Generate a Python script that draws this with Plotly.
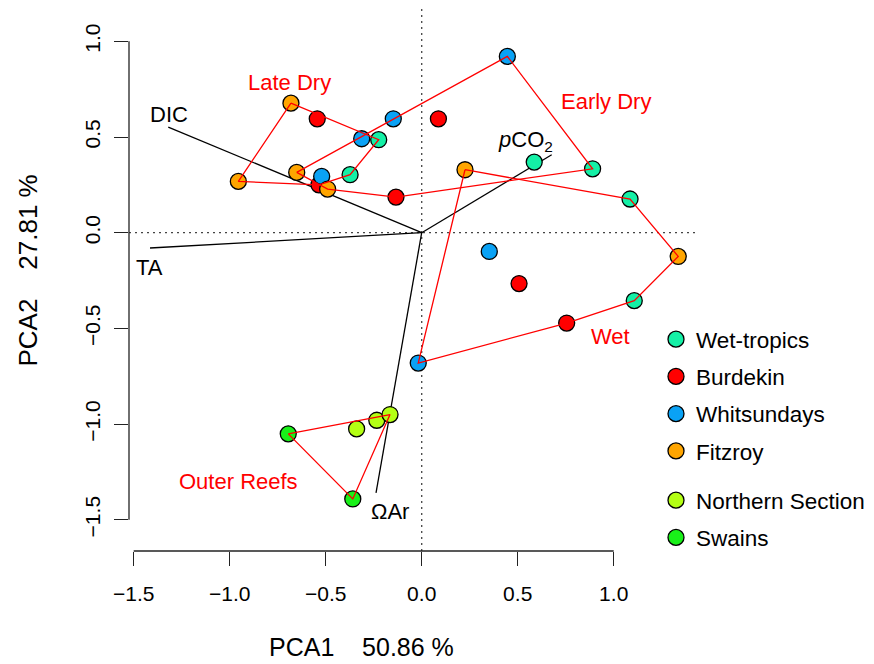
import plotly.graph_objects as go

# ---------------- data ----------------
regions = ["Wet-tropics", "Burdekin", "Whitsundays", "Fitzroy", "Northern Section", "Swains"]
colors = ["#14F0A6", "#FF0000", "#0AA2F5", "#FFA500", "#B4FF14", "#19F019"]

wet_x = [-0.224, -0.373, 0.586, 0.890, 1.085, 1.107]
wet_y = [0.486, 0.303, 0.369, 0.334, 0.176, -0.355]
bur_x = [-0.544, 0.087, -0.535, -0.134, 0.507, 0.755]
bur_y = [0.595, 0.595, 0.250, 0.186, -0.266, -0.472]
whi_x = [-0.148, -0.3125, -0.521, 0.446, 0.352, -0.018]
whi_y = [0.595, 0.491, 0.294, 0.921, -0.098, -0.681]
fit_x = [-0.681, -0.955, -0.651, -0.490, 0.2255, 1.336]
fit_y = [0.677, 0.268, 0.315, 0.228, 0.329, -0.124]
nor_x = [-0.339, -0.234, -0.165]
nor_y = [-1.025, -0.980, -0.950]
swa_x = [-0.695, -0.359]
swa_y = [-1.051, -1.391]

# season polygons: (region index, point index) in drawing order
late_dry = [(3, 0), (0, 0), (0, 1), (1, 2), (3, 1), (3, 0)]
early_dry = [(3, 2), (2, 3), (0, 3), (1, 3), (3, 3), (3, 2)]
wet_season = [(3, 4), (0, 4), (3, 5), (0, 5), (1, 5), (2, 5), (3, 4)]
outer_reefs = [(5, 0), (4, 2), (5, 1), (5, 0)]

season_names = ["Late Dry", "Early Dry", "Wet", "Outer Reefs"]
season_lab_x = [-0.69, 0.961, 0.985, -0.952]
season_lab_y = [0.787, 0.686, -0.543, -1.298]

# biplot vectors
vec_names = ["DIC", "TA", "<i>p</i>CO<sub>2</sub>", "ΩAr"]
vec_x = [-1.320, -1.415, 0.677, -0.238]
vec_y = [0.552, -0.080, 0.407, -1.359]
vec_lab_x = [-1.316, -1.420, 0.538, -0.165]
vec_lab_y = [0.615, -0.184, 0.480, -1.455]

x_ticks = [-1.5, -1.0, -0.5, 0.0, 0.5, 1.0]
y_ticks = [-1.5, -1.0, -0.5, 0.0, 0.5, 1.0]
x_title = "PCA1\u00a0\u00a0\u00a0\u00a050.86 %"
y_title = "PCA2\u00a0\u00a0\u00a0\u00a027.81 %"

X_RANGE = [-1.5245, 1.4234]
Y_RANGE = [-1.663, 1.174]

FONT = "Liberation Sans, Arial, Helvetica, sans-serif"

pts_x = [wet_x, bur_x, whi_x, fit_x, nor_x, swa_x]
pts_y = [wet_y, bur_y, whi_y, fit_y, nor_y, swa_y]

W, H = 874, 664
L, R, T, B = 129, 874 - 695, 8, 664 - 551
pw, ph = W - L - R, H - T - B


def px_to_paper(ax, ay):
    return (ax - L) / pw, (H - B - ay) / ph


fig = go.Figure()

# vectors (under points)
for vx, vy in zip(vec_x, vec_y):
    fig.add_trace(go.Scatter(x=[0, vx], y=[0, vy], mode="lines",
                             line=dict(color="black", width=1.3),
                             showlegend=False, hoverinfo="skip"))

# points
for i, (name, col) in enumerate(zip(regions, colors)):
    fig.add_trace(go.Scatter(
        x=pts_x[i], y=pts_y[i], mode="markers", name=name,
        marker=dict(size=16, color=col, line=dict(color="black", width=1.3)),
        legend="legend" if i < 4 else "legend2",
        legendgroup=name,
    ))

# season polygons (on top)
for poly in [late_dry, early_dry, wet_season, outer_reefs]:
    fig.add_trace(go.Scatter(
        x=[pts_x[r][k] for r, k in poly], y=[pts_y[r][k] for r, k in poly],
        mode="lines", line=dict(color="#FF0000", width=1.3),
        showlegend=False, hoverinfo="skip"))

annotations = []
for t, x, y in zip(season_names, season_lab_x, season_lab_y):
    annotations.append(dict(x=x, y=y, xref="x", yref="y", text=t, showarrow=False,
                            font=dict(family=FONT, size=22, color="#FF0000"),
                            xanchor="center", yanchor="middle"))
for t, x, y in zip(vec_names, vec_lab_x, vec_lab_y):
    annotations.append(dict(x=x, y=y, xref="x", yref="y", text=t, showarrow=False,
                            font=dict(family=FONT, size=22, color="black"),
                            xanchor="center", yanchor="middle"))

# axis titles (positioned in pixels, converted to paper coordinates)
xt_x, xt_y = px_to_paper(361, 663)
annotations.append(dict(x=xt_x, y=xt_y, xref="paper", yref="paper", text=x_title,
                        showarrow=False, xanchor="center", yanchor="bottom",
                        font=dict(family=FONT, size=25, color="black")))
yt_x, yt_y = px_to_paper(27.5, 271)
annotations.append(dict(x=yt_x, y=yt_y, xref="paper", yref="paper", text=y_title,
                        showarrow=False, textangle=-90, xanchor="center", yanchor="middle",
                        font=dict(family=FONT, size=26, color="black")))

DOT = "2px,4px"
shapes = [
    # dotted reference lines
    dict(type="line", xref="x", yref="paper", x0=0, x1=0, y0=0, y1=1,
         line=dict(color="#444", width=1.3, dash=DOT), layer="below"),
    dict(type="line", xref="paper", yref="y", x0=0, x1=1, y0=0, y1=0,
         line=dict(color="#444", width=1.3, dash=DOT), layer="below"),
    # R-style axis lines spanning first to last tick
    dict(type="line", xref="x", yref="paper", x0=x_ticks[0], x1=x_ticks[-1], y0=0, y1=0,
         line=dict(color="#222", width=1.3)),
    dict(type="line", xref="paper", yref="y", x0=0, x1=0, y0=y_ticks[0], y1=y_ticks[-1],
         line=dict(color="#222", width=1.3)),
]


def fmt(v):
    return f"{v:.1f}".replace("-", "\u2212")


fig.update_layout(
    width=W, height=H,
    margin=dict(l=L, r=R, t=T, b=B, pad=0, autoexpand=False),
    paper_bgcolor="white", plot_bgcolor="white",
    font=dict(family=FONT, size=21, color="black"),
    xaxis=dict(range=X_RANGE, showgrid=False, zeroline=False, showline=False,
               tickvals=x_ticks, ticktext=[fmt(v) for v in x_ticks],
               ticks="outside", ticklen=14, tickwidth=1.3, tickcolor="#222",
               tickfont=dict(family=FONT, size=21), ticklabelstandoff=10),
    yaxis=dict(range=Y_RANGE, showgrid=False, zeroline=False, showline=False,
               tickvals=y_ticks, ticktext=[fmt(v) for v in y_ticks],
               ticks="outside", ticklen=14, tickwidth=1.3, tickcolor="#222",
               tickangle=-90, tickfont=dict(family=FONT, size=21), ticklabelstandoff=6),
    legend=dict(x=(656 - L) / pw, xanchor="left", y=(H - B - 318) / ph, yanchor="top",
                bgcolor="rgba(0,0,0,0)", borderwidth=0, tracegroupgap=5,
                traceorder="grouped", font=dict(family=FONT, size=22.5)),
    legend2=dict(x=(656 - L) / pw, xanchor="left", y=(H - B - 479) / ph, yanchor="top",
                 bgcolor="rgba(0,0,0,0)", borderwidth=0, tracegroupgap=5,
                 traceorder="grouped", font=dict(family=FONT, size=22.5)),
    shapes=shapes,
    annotations=annotations,
    showlegend=True,
)

fig.write_html("out.html")
